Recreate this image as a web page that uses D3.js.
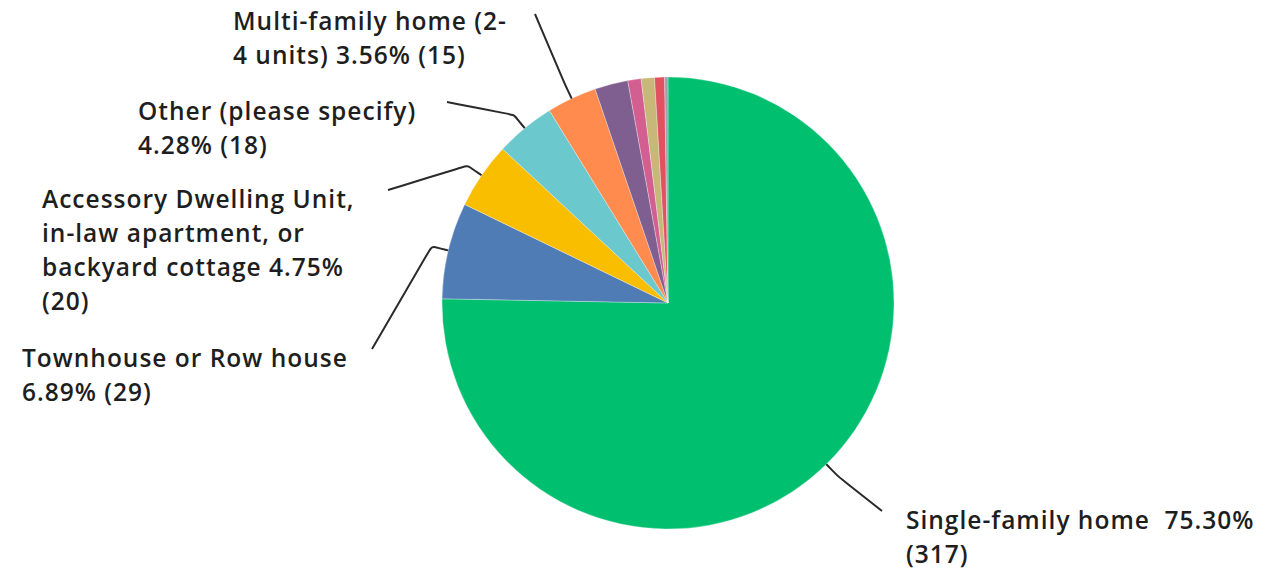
<!DOCTYPE html>
<html>
<head>
<meta charset="utf-8">
<script src="https://cdn.jsdelivr.net/npm/d3@7"></script>
<style>
  html, body { margin: 0; padding: 0; background: #fff; }
  svg { display: block; }
</style>
</head>
<body>
<svg id="chart" width="1284" height="569"></svg>
<script>
// Housing type responses (counts)
const categories = [
  "Single-family home ",
  "Townhouse or Row house",
  "Accessory Dwelling Unit, in-law apartment, or backyard cottage",
  "Other (please specify)",
  "Multi-family home (2-4 units)",
  "Apartment building (5+ units)",
  "Condominium",
  "Mobile or manufactured home",
  "Tiny home",
  "Houseboat"
];
const counts = [317, 29, 20, 18, 15, 10, 4, 4, 3, 1];
const colors = [
  "#00bf6f", "#507cb6", "#f9be00", "#6bc8cd", "#ff8b4f",
  "#7f5f90", "#d25f90", "#c7b879", "#e05260", "#9ba3ae"
];

// Label text lines per slice; {pct} and {n} are filled from the counts
const labelLines = [
  ["Single-family home  {pct}", "({n})"],
  ["Townhouse or Row house", "{pct} ({n})"],
  ["Accessory Dwelling Unit,", "in-law apartment, or", "backyard cottage {pct}", "({n})"],
  ["Other (please specify)", "{pct} ({n})"],
  ["Multi-family home (2-", "4 units) {pct} ({n})"]
];

// Label placement: text origin (first baseline) and leader end point
const labelLayout = [
  { x: 906, y: 529, endX: 882, endY: 511 },
  { x: 22,  y: 367, endX: 372, endY: 349 },
  { x: 42,  y: 208, endX: 388, endY: 190 },
  { x: 138, y: 120, endX: 447, endY: 102 },
  { x: 233, y: 30,  endX: 535, endY: 14 }
];

const cx = 668, cy = 303, radius = 226, lineHeight = 34, elbowOut = 17;

const svg = d3.select("#chart");
const total = d3.sum(counts);
const pctFmt = d3.format(".2%");

const pie = d3.pie().sort(null).value(d => d)
  .startAngle(0).endAngle(2 * Math.PI);
const arcs = pie(counts);
const arcGen = d3.arc().innerRadius(0).outerRadius(radius);

const g = svg.append("g").attr("transform", `translate(${cx},${cy})`);

g.selectAll("path.slice")
  .data(arcs)
  .join("path")
  .attr("class", "slice")
  .attr("d", arcGen)
  .attr("fill", (d, i) => colors[i])
  .attr("stroke", "#ffffff")
  .attr("stroke-opacity", 0.5)
  .attr("stroke-width", 0.6);

// Leader lines: from slice rim at mid angle, out a little, then to the label
const polar = (a, r) => [cx + r * Math.sin(a), cy - r * Math.cos(a)];
const leader = d3.line().curve(d3.curveBasis);

const labelled = labelLines.map((lines, i) => ({ i, lines, arc: arcs[i], pos: labelLayout[i] }));

svg.selectAll("path.leader")
  .data(labelled)
  .join("path")
  .attr("class", "leader")
  .attr("d", d => {
    const a = (d.arc.startAngle + d.arc.endAngle) / 2;
    const p0 = polar(a, radius);
    const p1 = polar(a, radius + elbowOut);
    return leader([p0, p1, p1, [d.pos.endX, d.pos.endY]]);
  })
  .attr("fill", "none")
  .attr("stroke", "#2a2a2a")
  .attr("stroke-width", 2);

svg.selectAll("text.label")
  .data(labelled)
  .join("text")
  .attr("class", "label")
  .attr("x", d => d.pos.x)
  .attr("y", d => d.pos.y)
  .attr("font-family", "'Open Sans', sans-serif")
  .attr("font-weight", 600)
  .attr("font-size", 24.5)
  .attr("letter-spacing", 1.0)
  .attr("fill", "#1e1e1e")
  .each(function (d) {
    const t = d3.select(this);
    d.lines.forEach((ln, k) => {
      const s = ln.replace("{pct}", pctFmt(counts[d.i] / total))
                  .replace("{n}", counts[d.i]);
      t.append("tspan")
        .attr("x", d.pos.x)
        .attr("dy", k === 0 ? 0 : lineHeight)
        .attr("xml:space", "preserve")
        .style("white-space", "pre")
        .text(s);
    });
  });
</script>
</body>
</html>
